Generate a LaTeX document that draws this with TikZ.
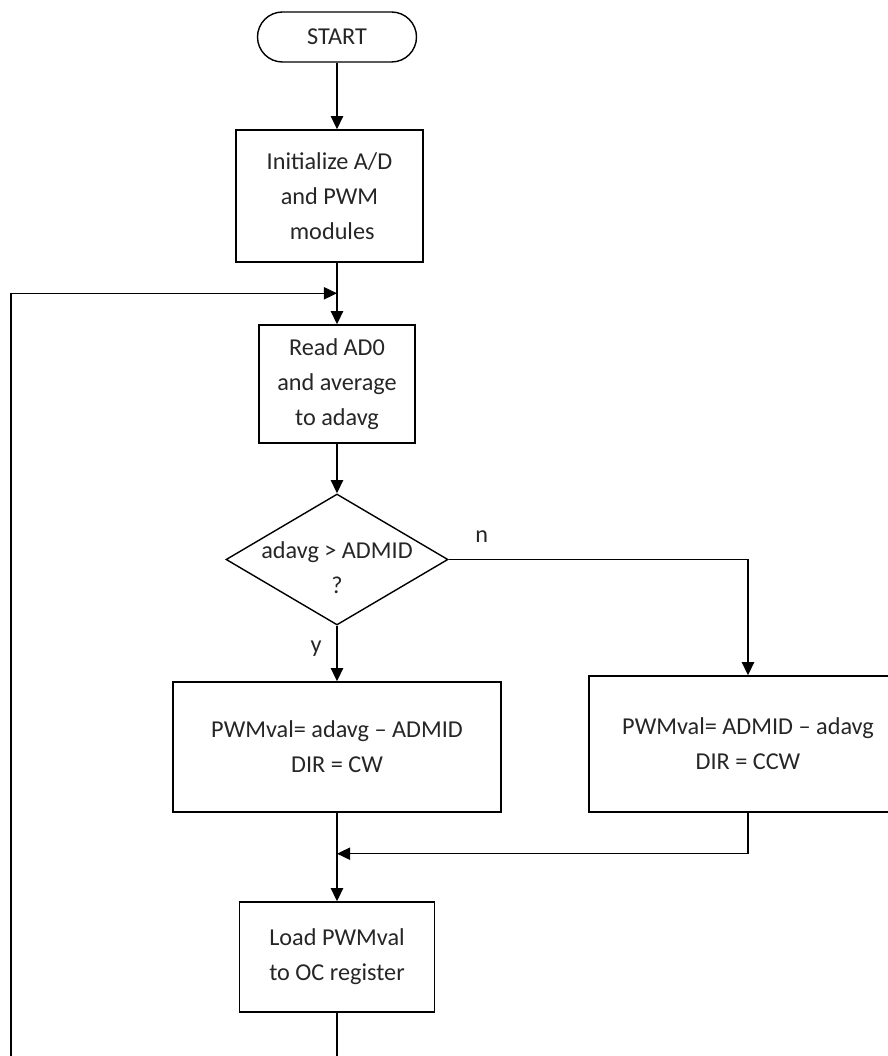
\documentclass[tikz,border=0pt]{standalone}
\usepackage{fontspec}
\setmainfont{Carlito}
\usepackage{tikz}
\usetikzlibrary{shapes.geometric, arrows.meta}
\tikzstyle{startstop} = [rectangle, rounded corners=0.5cm, minimum width=3.18cm, minimum height=1cm, text centered, draw=black, thick]
\tikzstyle{process} = [rectangle, minimum width=3.12cm, minimum height=2.36cm, text centered, align=center, draw=black, thick]
\tikzstyle{decision} = [diamond, aspect=1.7, minimum width=4.44cm, minimum height=2.62cm, inner sep=0pt, draw=black, thick]
\tikzstyle{arrow} = [thick,-{Triangle[length=7.5pt,width=7pt]}]
\tikzstyle{line} = [draw, thick]

\begin{document}
\begin{tikzpicture}[font=\fontsize{13.8}{19.9}\selectfont, text=black!85]

	\path[use as bounding box] (0,0) rectangle (17.76,21.12);
	\clip (0,0) rectangle (17.76,21.12);

	\node (p1) [startstop] at (6.74,20.38) {START};
	\node (p2) [process, below of = p1, node distance=3.18cm, xshift=-0.15cm, minimum width=3.74cm, minimum height=2.64cm] {Initialize A/D\\and PWM\\\ modules};

	\draw [arrow] (p1.south) -- (p1.south |- p2.north);

	\node (p3) [process, below of = p1, node distance=6.94cm] {Read AD0\\and average\\to adavg};
	\coordinate (c1) at ([yshift=0.62cm]p3.north);
	\coordinate (c0) at (0.22,0);

	\draw [arrow] (p1.south |- p2.south) -- (p3.north);

	\node (p4) [decision, below of = p3, node distance=3.51cm, label={[yshift=-0.16cm, align=center]center:adavg > ADMID\\?}] {};
	\node (n) at ([xshift=0.66cm, yshift=0.46cm]p4.east) {n};
	\node (y) at ([xshift=-0.42cm, yshift=-0.46cm]p4.south) {y};

	\draw [arrow] (p3) -- (p4);

	\node (p5) [process, below of = p4, node distance=3.75cm, minimum width=6.56cm, minimum height=2.6cm] {PWMval= adavg -- ADMID\\DIR = CW};
	\node (p6) [process, right of = p5, node distance=8.22cm, yshift=0.06cm, minimum width=6.36cm, minimum height=2.72cm] {PWMval= ADMID -- adavg\\DIR = CCW};

	\draw [arrow] (p4) -- (p5);
	\draw [arrow] (p4.east) -| (p6.north);

	\node (p7) [process, below of = p5, node distance=4.2cm, minimum width=3.9cm, minimum height=2.2cm] {Load PWMval\\to OC register};
	\coordinate (c2) at ([yshift=-0.82cm]p5.south);

	\draw [arrow] (p5) -- (p7);
	\draw [arrow] (p6.south) |- (c2);

	% loop back to read
	\draw [arrow] (p7.south) -- ++(0,-1) -| (c0 |- c1) -- (c1);

\end{tikzpicture}
\end{document}
